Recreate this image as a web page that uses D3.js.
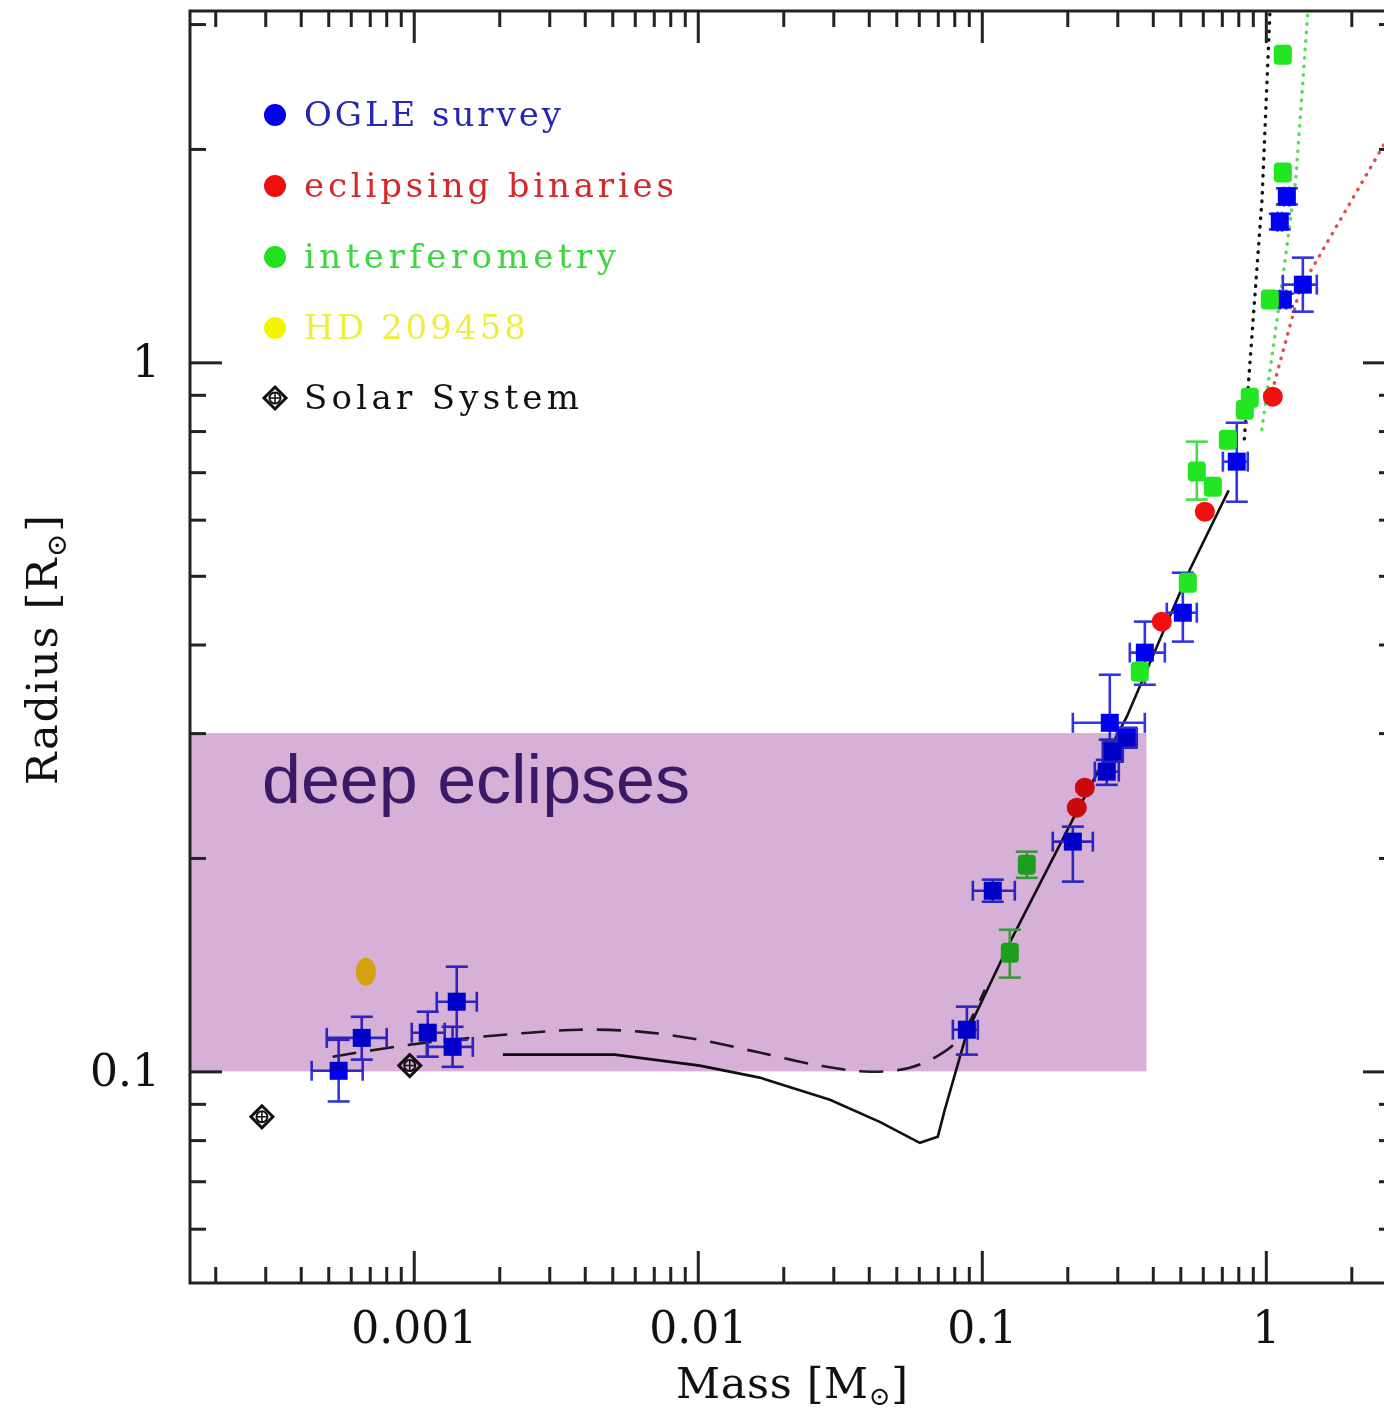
<!DOCTYPE html>
<html>
<head>
<meta charset="utf-8">
<script src="https://cdn.jsdelivr.net/npm/d3@7"></script>
<style>
  body { margin: 0; background: #fff; }
  svg { display: block; }
  .axis path { display: none; }
  .axis line { stroke: #222; stroke-width: 3; }
  .axis text { font-family: "DejaVu Serif", serif; font-size: 44px; fill: #111; }
  .legend text { font-family: "DejaVu Serif", serif; font-size: 34px; }
  .axis-label { font-family: "DejaVu Serif", serif; font-size: 43px; fill: #111; }
</style>
</head>
<body>
<svg id="chart" width="1384" height="1416"></svg>
<script>
// tick values
const xMajorTicks = [0.001, 0.01, 0.1, 1];
const xTickLabels = ["0.001", "0.01", "0.1", "1"];
const yMajorTicks = [0.1, 1];
const yTickLabels = ["0.1", "1"];

// OGLE survey transits (mass, radius, error ranges) in solar units
const ogle = [
  { m: 0.000544, r: 0.1002, m0: 0.000437, m1: 0.000661, r0: 0.0907, r1: 0.1108 },
  { m: 0.000656, r: 0.1115, m0: 0.000494, m1: 0.000803, r0: 0.1039, r1: 0.1194 },
  { m: 0.00112,  r: 0.1134, m0: 0.000984, m1: 0.001285, r0: 0.1049, r1: 0.1214 },
  { m: 0.001417, r: 0.1254, m0: 0.001205, m1: 0.001667, r0: 0.1108, r1: 0.1405 },
  { m: 0.00137,  r: 0.1083, m0: 0.001111, m1: 0.001614, r0: 0.1015, r1: 0.1156 },
  { m: 0.0886,   r: 0.1145, m0: 0.0791,   m1: 0.0968,   r0: 0.1056, r1: 0.1234 },
  { m: 0.1093,   r: 0.1798, m0: 0.0930,   m1: 0.1307,   r0: 0.1735, r1: 0.1864 },
  { m: 0.2092,   r: 0.2109, m0: 0.1778,   m1: 0.246,    r0: 0.1852, r1: 0.2214 },
  { m: 0.2754,   r: 0.2647, m0: 0.25,     m1: 0.3037,   r0: 0.2536, r1: 0.275 },
  { m: 0.2892,   r: 0.2825, m0: 0.2667,   m1: 0.3137,   r0: 0.2734, r1: 0.2917 },
  { m: 0.324,    r: 0.2955, m0: 0.2988,   m1: 0.3513,   r0: 0.2861, r1: 0.3053 },
  { m: 0.2823,   r: 0.3102, m0: 0.2092,   m1: 0.375,    r0: 0.2937, r1: 0.3626 },
  { m: 0.375,    r: 0.3896, m0: 0.332,    m1: 0.441,    r0: 0.351,  r1: 0.4309 },
  { m: 0.5103,   r: 0.4435, m0: 0.448,    m1: 0.5715,   r0: 0.4038, r1: 0.505 },
  { m: 0.79,     r: 0.7244, m0: 0.706,    m1: 0.864,    r0: 0.636,  r1: 0.822 },
  { m: 1.148,    r: 1.226,  m0: 1.12,     m1: 1.18,     r0: 1.2,    r1: 1.25 },
  { m: 1.35,     r: 1.287,  m0: 1.148,    m1: 1.512,    r0: 1.179,  r1: 1.405 },
  { m: 1.12,     r: 1.579,  m0: 1.1,      m1: 1.14,     r0: 1.54,   r1: 1.62 },
  { m: 1.186,    r: 1.713,  m0: 1.16,     m1: 1.21,     r0: 1.67,   r1: 1.76 }
];

// eclipsing binaries
const binaries = [
  { m: 0.216, r: 0.2355 },
  { m: 0.2305, r: 0.2513 },
  { m: 0.4303, r: 0.4308 },
  { m: 0.61, r: 0.6158 },
  { m: 1.058, r: 0.8946 }
];

// interferometry
const interfero = [
  { m: 0.1255, r: 0.147, r0: 0.1356, r1: 0.1584 },
  { m: 0.144, r: 0.1956, r0: 0.1875, r1: 0.2041 },
  { m: 0.36, r: 0.3662 },
  { m: 0.5313, r: 0.4889 },
  { m: 0.5715, r: 0.7013, r0: 0.6404, r1: 0.773 },
  { m: 0.651, r: 0.6678 },
  { m: 0.735, r: 0.778 },
  { m: 0.8435, r: 0.8577 },
  { m: 0.878, r: 0.8917 },
  { m: 1.033, r: 1.226 },
  { m: 1.148, r: 1.852 },
  { m: 1.148, r: 2.716 }
];

const hd209458 = [{ m: 0.000678, r: 0.1382 }];
const solarSystem = [{ m: 0.000292, r: 0.0863 }, { m: 0.000968, r: 0.1019 }];

// model tracks
const solidMass   = [0.00206, 0.0051, 0.01016, 0.01652, 0.0292, 0.0437, 0.0605, 0.0700, 0.0741, 0.0886, 0.1255, 0.209, 0.324, 0.540, 0.74];
const solidRadius = [0.1056, 0.1056, 0.1019, 0.0980, 0.0912, 0.0849, 0.0793, 0.0809, 0.0883, 0.1134, 0.152, 0.2265, 0.3164, 0.510, 0.66];
const dashMass    = [0.000518, 0.000915, 0.001574, 0.00256, 0.00384, 0.00625, 0.01016, 0.01652, 0.0269, 0.0403, 0.0558, 0.0711, 0.0837, 0.1025];
const dashRadius  = [0.1049, 0.1087, 0.1115, 0.1134, 0.1145, 0.1138, 0.1108, 0.1063, 0.1019, 0.0999, 0.1012, 0.1056, 0.1115, 0.1304];
const blackDotMass   = [0.84, 0.97, 1.04];
const blackDotRadius = [0.78, 1.70, 3.3];
const greenDotMass   = [0.968, 1.12, 1.275, 1.42];
const greenDotRadius = [0.804, 1.225, 1.81, 3.3];
const redDotMass     = [1.033, 1.317, 2.602, 2.9];
const redDotRadius   = [0.886, 1.266, 2.027, 2.184];

// shaded region
const deepBox = { mMax: 0.38, rMin: 0.1, rMax: 0.3 };

const legendNames  = ["OGLE survey", "eclipsing binaries", "interferometry", "HD 209458", "Solar System"];
const legendColors = ["#0000f0", "#ee1010", "#22e022", "#f4f400", "#111"];
const legendText   = ["#2626b4", "#d22a2a", "#3ed63e", "#eeee40", "#111"];

const svg = d3.select("#chart");
const x = d3.scaleLog().domain([1.63e-4, 2.85]).range([190, 1395]);
const y = d3.scaleLog().domain([0.0503, 3.13]).range([1283, 11]);
const [x0, x1] = x.range();
const [y1, y0] = y.range();

svg.append("defs").append("clipPath").attr("id", "plotclip")
  .append("rect").attr("x", x0).attr("y", y0).attr("width", x1 - x0).attr("height", y1 - y0);

const plot = svg.append("g").attr("clip-path", "url(#plotclip)");

const line = d3.line().x(d => x(d[0])).y(d => y(d[1]));
const zip = (a, b) => a.map((v, i) => [v, b[i]]);

// tracks
plot.append("path").attr("d", line.curve(d3.curveLinear)(zip(solidMass, solidRadius)))
  .attr("fill", "none").attr("stroke", "#111").attr("stroke-width", 2.6);
plot.append("path").attr("d", d3.line().x(d => x(d[0])).y(d => y(d[1])).curve(d3.curveCatmullRom)(zip(dashMass, dashRadius)))
  .attr("fill", "none").attr("stroke", "#222").attr("stroke-width", 2.6).attr("stroke-dasharray", "24,14");
[[blackDotMass, blackDotRadius, "#111"], [greenDotMass, greenDotRadius, "#55dd55"], [redDotMass, redDotRadius, "#e05050"]]
  .forEach(([ms, rs, c]) => {
    plot.append("path").attr("d", line.curve(d3.curveLinear)(zip(ms, rs)))
      .attr("fill", "none").attr("stroke", c).attr("stroke-width", 3.4)
      .attr("stroke-linecap", "round").attr("stroke-dasharray", "0.5,8");
  });

// error bars
function errorBars(data, color) {
  const g = plot.append("g").attr("stroke", color).attr("stroke-width", 2.6).attr("fill", "none");
  data.forEach(d => {
    if (d.m0 !== undefined) {
      g.append("line").attr("x1", x(d.m0)).attr("x2", x(d.m1)).attr("y1", y(d.r)).attr("y2", y(d.r));
      [d.m0, d.m1].forEach(v => g.append("line").attr("x1", x(v)).attr("x2", x(v))
        .attr("y1", y(d.r) - 10).attr("y2", y(d.r) + 10));
    }
    if (d.r0 !== undefined) {
      g.append("line").attr("x1", x(d.m)).attr("x2", x(d.m)).attr("y1", y(d.r0)).attr("y2", y(d.r1));
      [d.r0, d.r1].forEach(v => g.append("line").attr("y1", y(v)).attr("y2", y(v))
        .attr("x1", x(d.m) - 11).attr("x2", x(d.m) + 11));
    }
  });
}
errorBars(ogle, "#3434e2");
errorBars(interfero, "#44dd44");

plot.selectAll("rect.ogle").data(ogle).join("rect").attr("class", "ogle")
  .attr("x", d => x(d.m) - 9).attr("y", d => y(d.r) - 9).attr("width", 18).attr("height", 18)
  .attr("fill", "#0000f0");
plot.selectAll("rect.intf").data(interfero).join("rect").attr("class", "intf")
  .attr("x", d => x(d.m) - 9).attr("y", d => y(d.r) - 10).attr("width", 18).attr("height", 20)
  .attr("rx", 4).attr("fill", "#22e622");
plot.selectAll("circle.eb").data(binaries).join("circle").attr("class", "eb")
  .attr("cx", d => x(d.m)).attr("cy", d => y(d.r)).attr("r", 10).attr("fill", "#f01010");
plot.selectAll("ellipse.hd").data(hd209458).join("ellipse")
  .attr("cx", d => x(d.m)).attr("cy", d => y(d.r)).attr("rx", 10).attr("ry", 14).attr("fill", "#ffea10");

function solarMarker(g, cx, cy, s) {
  g.append("path").attr("d", `M${cx},${cy - s}L${cx + s},${cy}L${cx},${cy + s}L${cx - s},${cy}Z`)
    .attr("fill", "none").attr("stroke", "#111").attr("stroke-width", 3);
  g.append("circle").attr("cx", cx).attr("cy", cy).attr("r", s * 0.5)
    .attr("fill", "none").attr("stroke", "#111").attr("stroke-width", 2);
  g.append("path").attr("d", `M${cx - s * 0.5},${cy}H${cx + s * 0.5}M${cx},${cy - s * 0.5}V${cy + s * 0.5}`)
    .attr("stroke", "#111").attr("stroke-width", 1.5);
}
solarSystem.forEach(d => solarMarker(plot, x(d.m), y(d.r), 11));

// shaded "deep eclipses" region
svg.append("rect")
  .attr("x", x0).attr("y", y(deepBox.rMax))
  .attr("width", x(deepBox.mMax) - x0).attr("height", y(deepBox.rMin) - y(deepBox.rMax))
  .attr("fill", "#d6b0d6").style("mix-blend-mode", "multiply");

svg.append("text").attr("x", 262).attr("y", 803)
  .attr("font-family", "'Liberation Sans', Arial, sans-serif").attr("font-size", 68)
  .attr("fill", "#3a1a66").attr("textLength", 428).attr("lengthAdjust", "spacingAndGlyphs")
  .text("deep eclipses");

// axes
function minorTicks(lo, hi) {
  const t = [];
  for (let e = Math.floor(Math.log10(lo)); e <= Math.ceil(Math.log10(hi)); e++) {
    for (let k = 2; k <= 9; k++) {
      const v = k * Math.pow(10, e);
      if (v > lo * 1.01 && v < hi * 0.99) t.push(v);
    }
  }
  return t;
}
const xMinor = minorTicks(...x.domain());
const yMinor = minorTicks(...y.domain());
const fmtX = d => xTickLabels[xMajorTicks.indexOf(d)];
const fmtY = d => yTickLabels[yMajorTicks.indexOf(d)];

svg.append("g").attr("class", "axis").attr("transform", `translate(0,${y1})`)
  .call(d3.axisBottom(x).tickValues(xMajorTicks).tickFormat(fmtX).tickSizeInner(-32).tickSizeOuter(0).tickPadding(29));
svg.append("g").attr("class", "axis").attr("transform", `translate(0,${y1})`)
  .call(d3.axisBottom(x).tickValues(xMinor).tickFormat("").tickSizeInner(-16).tickSizeOuter(0));
svg.append("g").attr("class", "axis").attr("transform", `translate(0,${y0})`)
  .call(d3.axisTop(x).tickValues(xMajorTicks).tickFormat("").tickSizeInner(-32).tickSizeOuter(0));
svg.append("g").attr("class", "axis").attr("transform", `translate(0,${y0})`)
  .call(d3.axisTop(x).tickValues(xMinor).tickFormat("").tickSizeInner(-16).tickSizeOuter(0));

svg.append("g").attr("class", "axis").attr("transform", `translate(${x0},0)`)
  .call(d3.axisLeft(y).tickValues(yMajorTicks).tickFormat(fmtY).tickSizeInner(-32).tickSizeOuter(0).tickPadding(30));
svg.append("g").attr("class", "axis").attr("transform", `translate(${x0},0)`)
  .call(d3.axisLeft(y).tickValues(yMinor).tickFormat("").tickSizeInner(-16).tickSizeOuter(0));
svg.append("g").attr("class", "axis").attr("transform", `translate(${x1},0)`)
  .call(d3.axisRight(y).tickValues(yMajorTicks).tickFormat("").tickSizeInner(-32).tickSizeOuter(0));
svg.append("g").attr("class", "axis").attr("transform", `translate(${x1},0)`)
  .call(d3.axisRight(y).tickValues(yMinor).tickFormat("").tickSizeInner(-16).tickSizeOuter(0));

svg.append("rect").attr("x", x0).attr("y", y0).attr("width", x1 - x0).attr("height", y1 - y0)
  .attr("fill", "none").attr("stroke", "#222").attr("stroke-width", 3);

// axis titles
const xt = svg.append("text").attr("class", "axis-label").attr("x", 792).attr("y", 1398)
  .attr("text-anchor", "middle").attr("textLength", 232).attr("lengthAdjust", "spacing");
xt.append("tspan").text("Mass [M");
xt.append("tspan").attr("font-size", 26).attr("dy", 7).text("⊙");
xt.append("tspan").attr("dy", -7).text("]");

const yt = svg.append("text").attr("class", "axis-label").attr("transform", "translate(57,650) rotate(-90)")
  .attr("text-anchor", "middle").attr("textLength", 270).attr("lengthAdjust", "spacing");
yt.append("tspan").text("Radius [R");
yt.append("tspan").attr("font-size", 28).attr("dy", 9).text("⊙");
yt.append("tspan").attr("dy", -9).text("]");

// legend
const legendY = [115, 186, 257, 328, 398];
const legendW = [257, 370, 312, 222, 275];
const leg = svg.append("g").attr("class", "legend");
legendNames.forEach((name, i) => {
  if (i < 4) {
    leg.append("circle").attr("cx", 275).attr("cy", legendY[i]).attr("r", 11).attr("fill", legendColors[i]);
  } else {
    solarMarker(leg, 275, legendY[i], 11);
  }
  leg.append("text").attr("x", 304).attr("y", legendY[i] + 11)
    .attr("fill", legendText[i]).attr("textLength", legendW[i]).attr("lengthAdjust", "spacing")
    .text(name);
});
</script>
</body>
</html>
